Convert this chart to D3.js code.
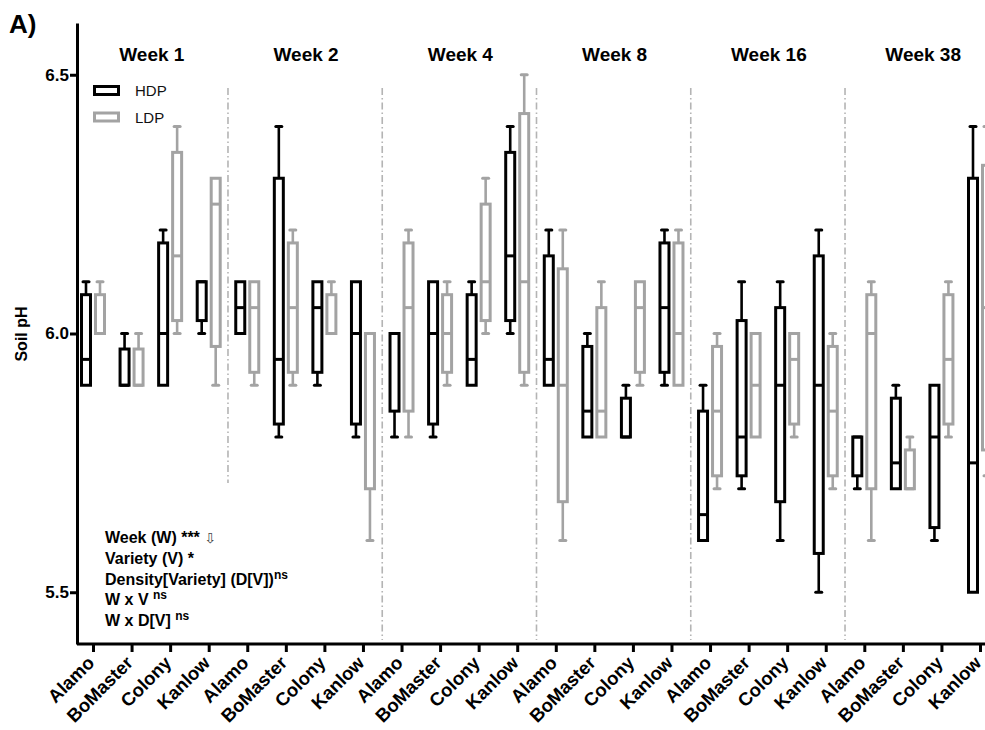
<!DOCTYPE html>
<html>
<head>
<meta charset="utf-8">
<script src="https://cdn.jsdelivr.net/npm/d3@7"></script>
<style>
    body { margin: 0; background: #fff; }
    svg { font-family: "Liberation Sans", Arial, sans-serif; display: block; }
</style>
</head>
<body>
<svg id="chart" width="985" height="730"></svg>
<script>
// weeks and varieties
var weeks = ["Week 1", "Week 2", "Week 4", "Week 8", "Week 16", "Week 38"];
var varieties = ["Alamo", "BoMaster", "Colony", "Kanlow"];
var yTicks = [5.5, 6.0, 6.5];

// box stats [min, q1, median, q3, max], week by week, variety order as above
var hdpStats = [
    [5.9, 5.9, 5.95, 6.075, 6.1], [5.9, 5.9, 5.9, 5.97, 6.0], [5.9, 5.9, 6.0, 6.175, 6.2], [6.0, 6.025, 6.1, 6.1, 6.1],
    [6.0, 6.0, 6.05, 6.1, 6.1], [5.8, 5.825, 5.95, 6.3, 6.4], [5.9, 5.925, 6.05, 6.1, 6.1], [5.8, 5.825, 6.0, 6.1, 6.1],
    [5.8, 5.85, 6.0, 6.0, 6.0], [5.8, 5.825, 6.0, 6.1, 6.1], [5.9, 5.9, 5.95, 6.075, 6.1], [6.0, 6.025, 6.15, 6.35, 6.4],
    [5.9, 5.9, 5.95, 6.15, 6.2], [5.8, 5.8, 5.85, 5.975, 6.0], [5.8, 5.8, 5.8, 5.875, 5.9], [5.9, 5.925, 6.05, 6.175, 6.2],
    [5.6, 5.6, 5.65, 5.85, 5.9], [5.7, 5.725, 5.8, 6.025, 6.1], [5.6, 5.675, 5.9, 6.05, 6.1], [5.5, 5.575, 5.9, 6.15, 6.2],
    [5.7, 5.725, 5.8, 5.8, 5.8], [5.7, 5.7, 5.75, 5.875, 5.9], [5.6, 5.625, 5.8, 5.9, 5.9], [5.5, 5.5, 5.75, 6.3, 6.4]
];
var ldpStats = [
    [6.0, 6.0, 6.0, 6.075, 6.1], [5.9, 5.9, 5.9, 5.97, 6.0], [6.0, 6.025, 6.15, 6.35, 6.4], [5.9, 5.975, 6.25, 6.3, 6.3],
    [5.9, 5.925, 6.05, 6.1, 6.1], [5.9, 5.925, 6.05, 6.175, 6.2], [6.0, 6.0, 6.0, 6.075, 6.1], [5.6, 5.7, 6.0, 6.0, 6.0],
    [5.8, 5.85, 6.05, 6.175, 6.2], [5.9, 5.925, 6.0, 6.075, 6.1], [6.0, 6.025, 6.1, 6.25, 6.3], [5.9, 5.925, 6.1, 6.425, 6.5],
    [5.6, 5.675, 5.9, 6.125, 6.2], [5.8, 5.8, 5.85, 6.05, 6.1], [5.9, 5.925, 6.05, 6.1, 6.1], [5.9, 5.9, 6.0, 6.175, 6.2],
    [5.7, 5.725, 5.85, 5.975, 6.0], [5.8, 5.8, 5.9, 6.0, 6.0], [5.8, 5.825, 5.95, 6.0, 6.0], [5.7, 5.725, 5.85, 5.975, 6.0],
    [5.6, 5.7, 6.0, 6.075, 6.1], [5.7, 5.7, 5.7, 5.775, 5.8], [5.8, 5.825, 5.95, 6.075, 6.1], [5.725, 5.775, 6.05, 6.325, 6.4]
];

var series = [
    { name: "HDP", color: "#000", offset: -7, stats: hdpStats },
    { name: "LDP", color: "#a3a3a3", offset: 7, stats: ldpStats }
];

var svg = d3.select("#chart");

var keys = [];
weeks.forEach(function(w) {
    varieties.forEach(function(v) { keys.push(w + "|" + v); });
});

var x = d3.scalePoint().domain(keys).range([93, 980]);
var y = d3.scaleLinear().domain([5.4, 6.6]).range([644, 23]);

// panel letter
svg.append("text").attr("x", 9).attr("y", 33)
    .style("font-size", "26px").style("font-weight", "bold").text("A)");

// week separators
for (var i = 1; i < weeks.length; i++) {
    var sx = (x(keys[i * 4 - 1]) + x(keys[i * 4])) / 2;
    svg.append("line")
        .attr("x1", sx).attr("x2", sx)
        .attr("y1", 88).attr("y2", i == 1 ? 483 : 640)
        .attr("stroke", "#b4b4b4").attr("stroke-width", 1.6)
        .attr("stroke-dasharray", "7,3,1.5,3");
}

// week titles
svg.selectAll(".week").data(weeks).enter().append("text")
    .attr("class", "week")
    .attr("x", function(d, i) { return (x(keys[i * 4]) + x(keys[i * 4 + 3])) / 2 + 1; })
    .attr("y", 61)
    .attr("text-anchor", "middle")
    .style("font-size", "19px").style("font-weight", "bold")
    .text(function(d) { return d; });

// y axis
var yAxis = svg.append("g").attr("transform", "translate(77,0)")
    .call(d3.axisLeft(y).tickValues(yTicks).tickFormat(d3.format(".1f")).tickSize(7).tickSizeOuter(0));
yAxis.select(".domain").attr("stroke-width", 3);
yAxis.selectAll(".tick line").attr("stroke-width", 3);
yAxis.selectAll(".tick text").attr("x", -8)
    .style("font-size", "17px").style("font-weight", "bold").attr("fill", "#000")
    .style("font-family", "'Liberation Sans', Arial, sans-serif");

svg.append("text")
    .attr("transform", "translate(27,334) rotate(-90)")
    .attr("text-anchor", "middle")
    .style("font-size", "16px").style("font-weight", "bold")
    .text("Soil pH");

// x axis
var xAxis = svg.append("g").attr("transform", "translate(0,644)")
    .call(d3.axisBottom(x).tickSize(8).tickSizeOuter(0).tickFormat(function(d) { return d.split("|")[1]; }));
xAxis.select(".domain").remove();
xAxis.selectAll(".tick text")
    .attr("text-anchor", "end")
    .attr("dy", null).attr("y", 0)
    .attr("transform", "translate(2,20) rotate(-45)")
    .style("font-size", "18.5px").style("font-weight", "bold").attr("fill", "#000")
    .style("font-family", "'Liberation Sans', Arial, sans-serif");
xAxis.selectAll(".tick line").attr("stroke-width", 3);
svg.append("line").attr("x1", 77).attr("x2", 985).attr("y1", 644).attr("y2", 644)
    .attr("stroke", "#000").attr("stroke-width", 3);

// boxes
var bw = 9;
series.forEach(function(s) {
    var g = svg.append("g").attr("class", "series-" + s.name);
    var boxes = g.selectAll("g").data(s.stats).enter().append("g")
        .attr("transform", function(d, i) { return "translate(" + (x(keys[i]) + s.offset) + ",0)"; });

    // whiskers
    boxes.filter(function(d) { return d[4] > d[3]; }).append("line")
        .attr("y1", function(d) { return y(d[4]); }).attr("y2", function(d) { return y(d[3]); })
        .attr("stroke", s.color).attr("stroke-width", 2.6);
    boxes.filter(function(d) { return d[4] > d[3]; }).append("line")
        .attr("x1", -3).attr("x2", 3)
        .attr("y1", function(d) { return y(d[4]); }).attr("y2", function(d) { return y(d[4]); })
        .attr("stroke", s.color).attr("stroke-width", 3).attr("stroke-linecap", "round");
    boxes.filter(function(d) { return d[0] < d[1]; }).append("line")
        .attr("y1", function(d) { return y(d[1]); }).attr("y2", function(d) { return y(d[0]); })
        .attr("stroke", s.color).attr("stroke-width", 2.6);
    boxes.filter(function(d) { return d[0] < d[1]; }).append("line")
        .attr("x1", -3).attr("x2", 3)
        .attr("y1", function(d) { return y(d[0]); }).attr("y2", function(d) { return y(d[0]); })
        .attr("stroke", s.color).attr("stroke-width", 3).attr("stroke-linecap", "round");

    boxes.append("rect")
        .attr("x", -bw / 2).attr("width", bw)
        .attr("y", function(d) { return y(d[3]); })
        .attr("height", function(d) { return y(d[1]) - y(d[3]); })
        .attr("fill", "#fff").attr("stroke", s.color).attr("stroke-width", 3);
    boxes.append("line")
        .attr("x1", -bw / 2).attr("x2", bw / 2)
        .attr("y1", function(d) { return y(d[2]); }).attr("y2", function(d) { return y(d[2]); })
        .attr("stroke", s.color).attr("stroke-width", 3);
});

// legend
var legend = svg.append("g").attr("transform", "translate(93,0)");
series.forEach(function(s, i) {
    legend.append("rect").attr("x", 1.5).attr("y", 86.5 + i * 26.5)
        .attr("width", 24).attr("height", 8)
        .attr("fill", "#fff").attr("stroke", s.color).attr("stroke-width", 3);
    legend.append("text").attr("x", 42).attr("y", 96 + i * 26.5)
        .style("font-size", "15px").attr("fill", "#111").text(s.name);
});

// stats annotation
var notes = [
    { main: "Week (W) ***", extra: " \u21e9", sup: "" },
    { main: "Variety (V) *", extra: "", sup: "" },
    { main: "Density[Variety] (D[V])", extra: "", sup: "ns" },
    { main: "W x V ", extra: "", sup: "ns" },
    { main: "W x D[V] ", extra: "", sup: "ns" }
];
var noteG = svg.append("g").style("font-size", "16px").style("font-weight", "bold");
notes.forEach(function(n, i) {
    var t = noteG.append("text").attr("x", 105).attr("y", 543 + i * 20.8);
    t.append("tspan").text(n.main);
    if (n.extra) {
        t.append("tspan").style("font-weight", "normal").style("font-family", "'DejaVu Sans', sans-serif")
            .style("font-size", "14px").attr("fill", "#444").text(n.extra);
    }
    if (n.sup) {
        t.append("tspan").attr("dy", -6).style("font-size", "12px").text(n.sup);
    }
});
</script>
</body>
</html>
